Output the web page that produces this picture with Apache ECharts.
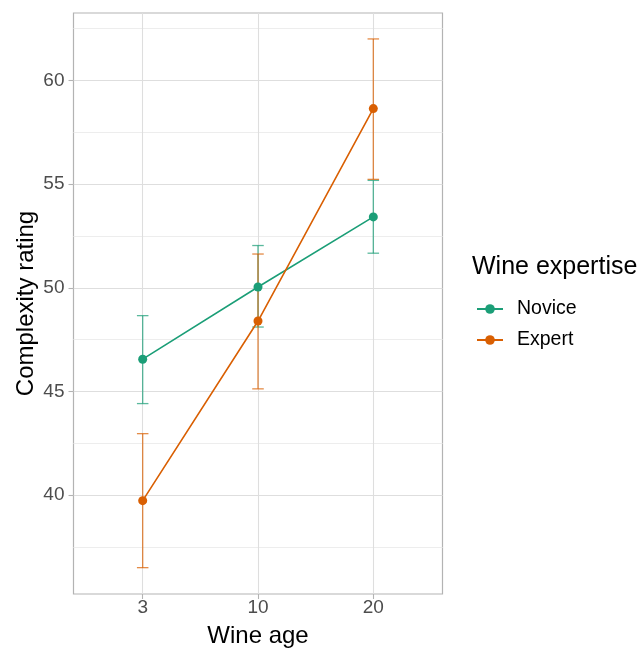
<!DOCTYPE html>
<html>
<head>
<meta charset="utf-8">
<script src="https://cdn.jsdelivr.net/npm/echarts@6/dist/echarts.min.js"></script>
<style>
  html, body { margin: 0; padding: 0; background: #ffffff; }
  #chart { width: 644px; height: 649px; }
</style>
</head>
<body>
<div id="chart"></div>
<script>
// Wine age groups (positions 1..3 on a continuous axis)
const ages = ['3', '10', '20'];
const agePos = [1, 2, 3];

// Mean complexity rating with lower / upper error bounds
const noviceMean = [46.56, 50.04, 53.42];
const noviceLow  = [44.42, 48.11, 51.67];
const noviceHigh = [48.66, 52.04, 55.18];

const expertMean = [39.74, 48.40, 58.64];
const expertLow  = [36.51, 45.13, 55.23];
const expertHigh = [42.97, 51.63, 62.00];

// Axis ticks
const yMajorTicks = [40, 45, 50, 55, 60];
const yMinorTicks = [37.5, 42.5, 47.5, 52.5, 57.5, 62.5];

const Y_MIN = 35.24;
const Y_MAX = 63.25;

const colNovice = '#1B9E77';
const colExpert = '#D95F02';
const errNovice = 'rgba(27,158,119,0.72)';
const errExpert = 'rgba(217,95,2,0.72)';

const FONT = 'Liberation Sans, Arial, sans-serif';

function errData(low, high) {
  return agePos.map((x, i) => [x, low[i], high[i]]);
}

function errorBarSeries(name, low, high, color) {
  return {
    type: 'custom',
    name: name + ' error',
    z: 2,
    silent: true,
    data: errData(low, high),
    encode: { x: 0, y: [1, 2] },
    renderItem: function (params, api) {
      const x = api.value(0);
      const lo = api.coord([x, api.value(1)]);
      const hi = api.coord([x, api.value(2)]);
      const half = api.size([0.1, 0])[0] / 2;
      const style = { stroke: color, lineWidth: 1.3, fill: null };
      return {
        type: 'group',
        children: [
          { type: 'line', shape: { x1: lo[0], y1: lo[1], x2: hi[0], y2: hi[1] }, style: style },
          { type: 'line', shape: { x1: hi[0] - half, y1: hi[1], x2: hi[0] + half, y2: hi[1] }, style: style },
          { type: 'line', shape: { x1: lo[0] - half, y1: lo[1], x2: lo[0] + half, y2: lo[1] }, style: style }
        ]
      };
    }
  };
}

function meanSeries(name, mean, color) {
  return {
    type: 'line',
    name: name,
    z: 3,
    data: agePos.map((x, i) => [x, mean[i]]),
    symbol: 'circle',
    symbolSize: 9,
    showSymbol: true,
    lineStyle: { color: color, width: 1.6 },
    itemStyle: { color: color },
    emphasis: { disabled: true },
    animation: false
  };
}

const chart = echarts.init(document.getElementById('chart'), null, { renderer: 'canvas' });

chart.setOption({
  animation: false,
  backgroundColor: '#ffffff',
  grid: {
    left: 73.5, right: 201.5, top: 13, bottom: 55,
    show: true, borderColor: '#B3B3B3', borderWidth: 1.2,
    containLabel: false,
    outerBoundsMode: 'none'
  },
  xAxis: {
    type: 'value',
    min: 0.4, max: 3.6,
    name: 'Wine age',
    nameLocation: 'middle',
    nameGap: 30,
    nameTextStyle: { fontFamily: FONT, fontSize: 24, color: '#000000' },
    axisLine: { show: false },
    axisTick: { show: true, length: 5, customValues: agePos, lineStyle: { color: '#B3B3B3', width: 1.1 } },
    axisLabel: {
      customValues: agePos,
      margin: 4,
      fontFamily: FONT, fontSize: 19, color: '#4D4D4D',
      formatter: function (v) { return ages[Math.round(v) - 1]; }
    },
    splitLine: { show: true, lineStyle: { color: '#DEDEDE', width: 1.1 } }
  },
  yAxis: [
    {
      type: 'value',
      min: Y_MIN, max: Y_MAX,
      name: 'Complexity rating',
      nameLocation: 'middle',
      nameRotate: 90,
      nameGap: 35,
      nameMoveOverlap: false,
      nameTextStyle: { fontFamily: FONT, fontSize: 24, color: '#000000' },
      axisLine: { show: false },
      axisTick: { show: true, length: 5, customValues: yMajorTicks, lineStyle: { color: '#B3B3B3', width: 1.1 } },
      axisLabel: {
        customValues: yMajorTicks,
        margin: 9,
        fontFamily: FONT, fontSize: 19, color: '#4D4D4D'
      },
      splitLine: { show: true, lineStyle: { color: '#DEDEDE', width: 1.1 } }
    },
    {
      // minor horizontal grid lines only
      type: 'value',
      min: Y_MIN, max: Y_MAX,
      position: 'left',
      axisLine: { show: false },
      axisTick: { show: false, customValues: yMinorTicks },
      axisLabel: { show: false, customValues: yMinorTicks },
      splitLine: { show: true, lineStyle: { color: '#EDEDED', width: 1 } }
    }
  ],
  legend: {
    data: ['Novice', 'Expert'],
    orient: 'vertical',
    left: 476,
    top: 299,
    padding: 0,
    itemWidth: 26,
    itemHeight: 12,
    itemGap: 11,
    textStyle: { fontFamily: FONT, fontSize: 19.5, color: '#000000', padding: [0, 0, 0, 9] },
    selectedMode: false
  },
  graphic: [
    {
      type: 'text',
      left: 472,
      top: 255,
      style: { text: 'Wine expertise', fontFamily: FONT, fontSize: 25, fill: '#000000' }
    }
  ],
  series: [
    errorBarSeries('Novice', noviceLow, noviceHigh, errNovice),
    errorBarSeries('Expert', expertLow, expertHigh, errExpert),
    meanSeries('Novice', noviceMean, colNovice),
    meanSeries('Expert', expertMean, colExpert)
  ]
});
</script>
</body>
</html>
